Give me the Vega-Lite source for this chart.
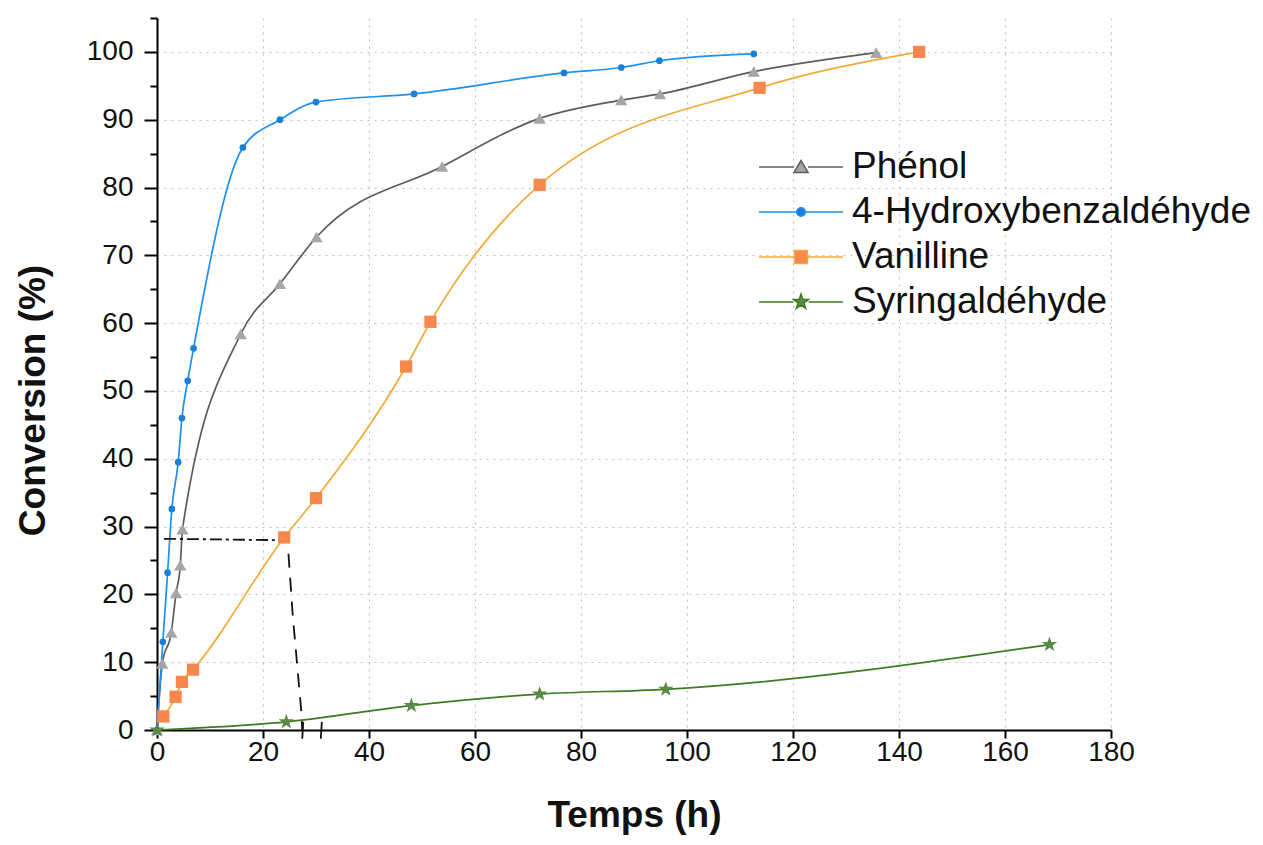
{
  "$schema": "https://vega.github.io/schema/vega-lite/v6.json",
  "width": 954,
  "height": 712,
  "autosize": "none",
  "padding": {"left": 157, "top": 18, "right": 152, "bottom": 115},
  "background": "white",
  "config": {
    "view": {"stroke": null},
    "font": "Liberation Sans",
    "axis": {
      "labelFont": "Liberation Sans",
      "titleFont": "Liberation Sans",
      "labelColor": "#111111",
      "titleColor": "#111111",
      "domainColor": "#000000",
      "domainWidth": 2,
      "tickColor": "#000000",
      "tickWidth": 2,
      "gridColor": "#c2c2c2",
      "gridDash": [2, 5],
      "gridWidth": 1.2
    }
  },
  "data": {
    "values": [
      {"serie": "Phénol", "temps": 0, "conversion": 0},
      {"serie": "Phénol", "temps": 1, "conversion": 9.8},
      {"serie": "Phénol", "temps": 2.7, "conversion": 14.4},
      {"serie": "Phénol", "temps": 3.6, "conversion": 20.2},
      {"serie": "Phénol", "temps": 4.4, "conversion": 24.3},
      {"serie": "Phénol", "temps": 4.8, "conversion": 29.6},
      {"serie": "Phénol", "temps": 15.8, "conversion": 58.4},
      {"serie": "Phénol", "temps": 23.2, "conversion": 65.8},
      {"serie": "Phénol", "temps": 30.1, "conversion": 72.7},
      {"serie": "Phénol", "temps": 53.8, "conversion": 83.1},
      {"serie": "Phénol", "temps": 72.2, "conversion": 90.2},
      {"serie": "Phénol", "temps": 87.6, "conversion": 92.9},
      {"serie": "Phénol", "temps": 94.9, "conversion": 93.8},
      {"serie": "Phénol", "temps": 112.6, "conversion": 97.1},
      {"serie": "Phénol", "temps": 135.7, "conversion": 99.9},
      {"serie": "4-Hydroxybenzaldéhyde", "temps": 0, "conversion": 0},
      {"serie": "4-Hydroxybenzaldéhyde", "temps": 1.1, "conversion": 13},
      {"serie": "4-Hydroxybenzaldéhyde", "temps": 2, "conversion": 23.2},
      {"serie": "4-Hydroxybenzaldéhyde", "temps": 2.8, "conversion": 32.6},
      {"serie": "4-Hydroxybenzaldéhyde", "temps": 4, "conversion": 39.5},
      {"serie": "4-Hydroxybenzaldéhyde", "temps": 4.7, "conversion": 46},
      {"serie": "4-Hydroxybenzaldéhyde", "temps": 5.8, "conversion": 51.5},
      {"serie": "4-Hydroxybenzaldéhyde", "temps": 6.9, "conversion": 56.3},
      {"serie": "4-Hydroxybenzaldéhyde", "temps": 16.2, "conversion": 85.9},
      {"serie": "4-Hydroxybenzaldéhyde", "temps": 23.2, "conversion": 90},
      {"serie": "4-Hydroxybenzaldéhyde", "temps": 30, "conversion": 92.6},
      {"serie": "4-Hydroxybenzaldéhyde", "temps": 48.5, "conversion": 93.8},
      {"serie": "4-Hydroxybenzaldéhyde", "temps": 76.8, "conversion": 96.9},
      {"serie": "4-Hydroxybenzaldéhyde", "temps": 87.6, "conversion": 97.7},
      {"serie": "4-Hydroxybenzaldéhyde", "temps": 94.8, "conversion": 98.7},
      {"serie": "4-Hydroxybenzaldéhyde", "temps": 112.6, "conversion": 99.7},
      {"serie": "Vanilline", "temps": 1.2, "conversion": 2},
      {"serie": "Vanilline", "temps": 3.5, "conversion": 4.9},
      {"serie": "Vanilline", "temps": 4.7, "conversion": 7.1},
      {"serie": "Vanilline", "temps": 6.8, "conversion": 8.9},
      {"serie": "Vanilline", "temps": 24, "conversion": 28.4},
      {"serie": "Vanilline", "temps": 30, "conversion": 34.2},
      {"serie": "Vanilline", "temps": 47, "conversion": 53.6},
      {"serie": "Vanilline", "temps": 51.6, "conversion": 60.2},
      {"serie": "Vanilline", "temps": 72.2, "conversion": 80.4},
      {"serie": "Vanilline", "temps": 113.7, "conversion": 94.7},
      {"serie": "Vanilline", "temps": 143.8, "conversion": 100},
      {"serie": "Syringaldéhyde", "temps": 0, "conversion": 0},
      {"serie": "Syringaldéhyde", "temps": 24.4, "conversion": 1.2},
      {"serie": "Syringaldéhyde", "temps": 48, "conversion": 3.6},
      {"serie": "Syringaldéhyde", "temps": 72.2, "conversion": 5.3},
      {"serie": "Syringaldéhyde", "temps": 96, "conversion": 6},
      {"serie": "Syringaldéhyde", "temps": 168.4, "conversion": 12.6}
    ]
  },
  "layer": [
    {
      "mark": {"type": "line", "interpolate": "monotone", "strokeWidth": 1.7},
      "encoding": {
        "x": {
          "field": "temps", "type": "quantitative",
          "scale": {"domain": [0, 180], "nice": false},
          "axis": {
            "title": "Temps (h)",
            "values": [0, 20, 40, 60, 80, 100, 120, 140, 160, 180],
            "labelFontSize": 28,
            "titleFontSize": 37,
            "titleFontWeight": "bold",
            "tickSize": 8,
            "labelPadding": 0,
            "titlePadding": 31,
            "grid": true,
            "labelFlush": false,
            "labelOverlap": false
          }
        },
        "y": {
          "field": "conversion", "type": "quantitative",
          "scale": {"domain": [0, 105], "nice": false},
          "axis": {
            "title": "Conversion (%)",
            "values": [0, 10, 20, 30, 40, 50, 60, 70, 80, 90, 100],
            "labelFontSize": 28,
            "titleFontSize": 37,
            "titleFontWeight": "bold",
            "tickSize": 13,
            "labelPadding": 11,
            "titlePadding": 34,
            "titleY": 382,
            "grid": true,
            "labelOverlap": false
          }
        },
        "color": {
          "field": "serie", "type": "nominal",
          "scale": {
            "domain": ["Phénol", "4-Hydroxybenzaldéhyde", "Vanilline", "Syringaldéhyde"],
            "range": ["#5c5c5c", "#1e90f0", "#f2aa3a", "#3d7a22"]
          },
          "legend": {
            "title": null,
            "orient": "none",
            "legendX": 601,
            "legendY": 130,
            "padding": 0,
            "labelFont": "Liberation Sans",
            "labelFontSize": 37,
            "labelColor": "#111111",
            "labelLimit": 700,
            "labelOffset": 32,
            "symbolSize": 1296,
            "symbolOffset": 24,
            "symbolStrokeWidth": 1.5,
            "rowPadding": 8,
            "encoding": {
              "symbols": {
                "shape": {"value": {"expr": "datum.value === 'Phénol' ? 'M-2.33,0H-0.39M0.39,0H2.33M0,-0.36L0.39,0.3L-0.39,0.3Z' : datum.value === '4-Hydroxybenzaldéhyde' ? 'M-2.33,0H-0.24M0.24,0H2.33M0.24,0A0.24,0.24,0,1,1,-0.24,0A0.24,0.24,0,1,1,0.24,0Z' : datum.value === 'Vanilline' ? 'M-2.33,0H-0.36M0.36,0H2.33M-0.36,-0.36H0.36V0.36H-0.36Z' : 'M-2.33,0H-0.42M0.42,0H2.33M0,-0.44L0.103,-0.143L0.418,-0.136L0.167,0.055L0.259,0.356L0,0.176L-0.259,0.356L-0.167,0.055L-0.418,-0.136L-0.103,-0.143Z'"}},
                "fill": {"value": {"expr": "datum.value === 'Phénol' ? '#a6a6a6' : datum.value === '4-Hydroxybenzaldéhyde' ? '#1b7fd9' : datum.value === 'Vanilline' ? '#f7874a' : '#5b8a46'"}},
                "stroke": {"value": {"expr": "datum.value === 'Phénol' ? '#5c5c5c' : datum.value === '4-Hydroxybenzaldéhyde' ? '#1e90f0' : datum.value === 'Vanilline' ? '#f2aa3a' : '#3d7a22'"}},
                "strokeWidth": {"value": 1.5},
                "opacity": {"value": 1}
              }
            }
          }
        }
      }
    },
    {
      "mark": {"type": "point", "filled": true, "opacity": 1},
      "encoding": {
        "x": {"field": "temps", "type": "quantitative"},
        "y": {
          "field": "conversion", "type": "quantitative",
          "scale": {"domain": [0, 105], "nice": false},
          "axis": null
        },
        "color": {
          "field": "serie", "type": "nominal",
          "scale": {
            "domain": ["Phénol", "4-Hydroxybenzaldéhyde", "Vanilline", "Syringaldéhyde"],
            "range": ["#a6a6a6", "#1b7fd9", "#f7874a", "#5b8a46"]
          },
          "legend": null
        },
        "shape": {
          "field": "serie", "type": "nominal",
          "scale": {
            "domain": ["Phénol", "4-Hydroxybenzaldéhyde", "Vanilline", "Syringaldéhyde"],
            "range": ["triangle-up", "circle", "square", "M0,-1L0.235,-0.324L0.951,-0.309L0.38,0.124L0.588,0.809L0,0.4L-0.588,0.809L-0.38,0.124L-0.951,-0.309L-0.235,-0.324Z"]
          },
          "legend": null
        },
        "size": {
          "condition": [
            {"test": "datum.serie === '4-Hydroxybenzaldéhyde'", "value": 45},
            {"test": "datum.serie === 'Syringaldéhyde'", "value": 260}
          ],
          "value": 150
        }
      }
    },
    {
      "data": {
        "values": [
          {"g": "h", "temps": 1.3, "conversion": 28.2},
          {"g": "h", "temps": 23, "conversion": 28.0},
          {"g": "v", "temps": 24.8, "conversion": 26},
          {"g": "v", "temps": 25.6, "conversion": 17},
          {"g": "v", "temps": 27.2, "conversion": 3},
          {"g": "v", "temps": 27.4, "conversion": 0},
          {"g": "m1", "temps": 27.6, "conversion": 1.2},
          {"g": "m1", "temps": 27.4, "conversion": -1.3},
          {"g": "m2", "temps": 31.1, "conversion": 1.2},
          {"g": "m2", "temps": 30.9, "conversion": -1.3}
        ]
      },
      "mark": {"type": "line", "color": "#111111", "strokeWidth": 1.8},
      "encoding": {
        "x": {"field": "temps", "type": "quantitative"},
        "y": {
          "field": "conversion", "type": "quantitative",
          "scale": {"domain": [0, 105], "nice": false},
          "axis": {
            "orient": "left",
            "title": null,
            "values": [5, 15, 25, 35, 45, 55, 65, 75, 85, 95, 105],
            "labels": false,
            "grid": false,
            "domain": false,
            "tickSize": 7
          }
        },
        "detail": {"field": "g"},
        "strokeDash": {
          "field": "g", "type": "nominal",
          "scale": {"domain": ["h", "v", "m1", "m2"], "range": [[12, 4, 3, 4], [14, 10], [1, 0], [1, 0]]},
          "legend": null
        }
      }
    }
  ],
  "resolve": {"scale": {"color": "independent", "y": "independent"}, "axis": {"y": "independent"}}
}
